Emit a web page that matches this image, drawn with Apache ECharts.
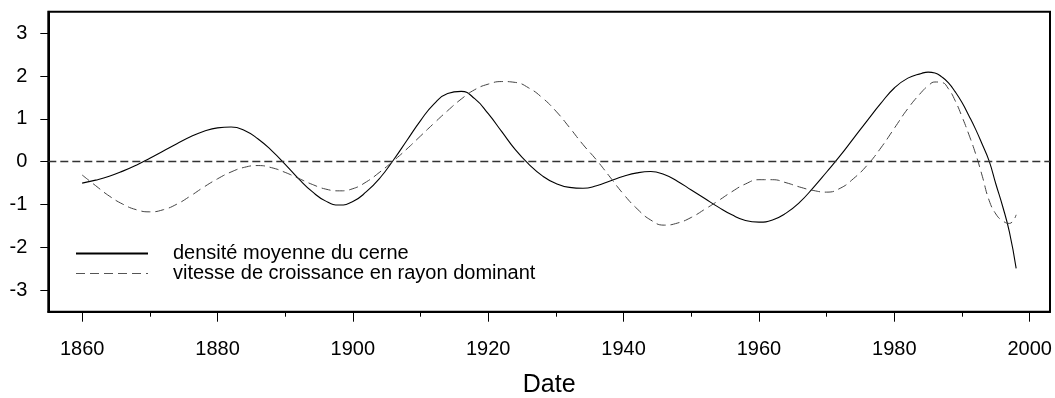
<!DOCTYPE html>
<html>
<head>
<meta charset="utf-8">
<script src="https://cdn.jsdelivr.net/npm/echarts@6/dist/echarts.min.js"></script>
<style>
  html, body { margin: 0; padding: 0; background: #fff; }
  #chart { width: 1055px; height: 398px; }
</style>
</head>
<body>
<div id="chart"></div>
<script>
// Years of the smoothed series (every 2 years, then yearly for the last span)
const years = [
  1860, 1862, 1864, 1866, 1868, 1870, 1872, 1874, 1876, 1878,
  1880, 1882, 1884, 1886, 1888, 1890, 1892, 1894, 1896, 1898,
  1900, 1902, 1904, 1906, 1908, 1910, 1912, 1914, 1916, 1918,
  1920, 1922, 1924, 1926, 1928, 1930, 1932, 1934, 1936, 1938,
  1940, 1942, 1944, 1946, 1948, 1950, 1952, 1954, 1956, 1958,
  1960, 1962, 1964, 1966, 1968, 1970, 1972, 1974, 1976, 1978,
  1980, 1982, 1984, 1985, 1986, 1987, 1988, 1989, 1990, 1991,
  1992, 1993, 1994, 1995, 1996, 1997, 1998
];

// Standardised mean ring density
const density = [
  -0.50, -0.43, -0.34, -0.22, -0.08, 0.08, 0.25, 0.42, 0.58, 0.71,
  0.79, 0.81, 0.73, 0.53, 0.26, -0.06, -0.40, -0.70, -0.92, -1.01,
  -0.93, -0.70, -0.38, 0.04, 0.50, 0.96, 1.35, 1.59, 1.64, 1.47,
  1.12, 0.70, 0.28, -0.06, -0.33, -0.51, -0.60, -0.62, -0.56, -0.45,
  -0.34, -0.26, -0.23, -0.30, -0.46, -0.66, -0.86, -1.06, -1.24, -1.37,
  -1.41, -1.36, -1.20, -0.95, -0.61, -0.24, 0.14, 0.55, 0.96, 1.36,
  1.72, 1.95, 2.06, 2.09, 2.07, 1.98, 1.84, 1.63, 1.38, 1.08,
  0.76, 0.40, 0.02, -0.52, -1.04, -1.64, -2.49
];

// Standardised radial growth rate of dominant trees
const growth = [
  -0.31, -0.56, -0.80, -0.99, -1.12, -1.17, -1.12, -0.99, -0.80, -0.59,
  -0.40, -0.24, -0.13, -0.09, -0.14, -0.25, -0.39, -0.53, -0.64, -0.68,
  -0.63, -0.47, -0.24, 0.02, 0.30, 0.60, 0.90, 1.19, 1.46, 1.68,
  1.81, 1.87, 1.85, 1.72, 1.49, 1.18, 0.80, 0.40, 0.04, -0.36,
  -0.76, -1.10, -1.36, -1.48, -1.43, -1.30, -1.11, -0.91, -0.70, -0.52,
  -0.42, -0.42, -0.49, -0.59, -0.67, -0.71, -0.62, -0.39, -0.08, 0.32,
  0.78, 1.24, 1.62, 1.77, 1.86, 1.85, 1.70, 1.42, 1.05, 0.64,
  0.19, -0.34, -0.90, -1.22, -1.38, -1.44, -1.24
];

const seriesNames = ['densité moyenne du cerne', 'vitesse de croissance en rayon dominant'];
const xTickLabels = [1860, 1880, 1900, 1920, 1940, 1960, 1980, 2000];
const xMinorTicks = [1870, 1890, 1910, 1930, 1950, 1970, 1990];
const yTickLabels = [-3, -2, -1, 0, 1, 2, 3];
const axisTitle = 'Date';

const FONT = "'Liberation Sans', Arial, sans-serif";

const pairs = vals => years.map((y, i) => [y, vals[i]]);

const chart = echarts.init(document.getElementById('chart'), null, { renderer: 'canvas' });

chart.setOption({
  animation: false,
  backgroundColor: '#fff',
  grid: {
    left: 48.3, top: 11.7, right: 5, bottom: 86.3,
    outerBoundsMode: 'none',
    containLabel: false,
    show: true, borderColor: '#000', borderWidth: 2, backgroundColor: 'transparent'
  },
  legend: {
    orient: 'vertical',
    left: 75, top: 243.5,
    padding: 0,
    itemGap: 0,
    itemWidth: 72,
    itemHeight: 19,
    textStyle: { fontFamily: FONT, fontSize: 20, lineHeight: 19, color: '#000', padding: [0, 0, 0, 20] },
    data: [
      {
        name: seriesNames[0],
        itemStyle: { opacity: 0, borderWidth: 0 },
        lineStyle: { width: 2, color: '#000', type: 'solid' }
      },
      {
        name: seriesNames[1],
        itemStyle: { opacity: 0, borderWidth: 0 },
        lineStyle: { width: 1, color: '#555', type: [9, 5] }
      }
    ]
  },
  xAxis: [
    {
      type: 'value', min: 1855, max: 2003, position: 'bottom',
      name: axisTitle, nameLocation: 'middle', nameGap: 61,
      nameTextStyle: { fontFamily: FONT, fontSize: 25, color: '#000' },
      axisLine: { show: true, onZero: false, lineStyle: { color: '#000', width: 2 } },
      axisTick: { show: true, customValues: xTickLabels, length: 10, lineStyle: { color: '#000', width: 1 } },
      axisLabel: {
        customValues: xTickLabels, margin: 28,
        fontFamily: FONT, fontSize: 20, color: '#000',
        formatter: v => String(v)
      },
      splitLine: { show: false }
    },
    {
      type: 'value', min: 1855, max: 2003, position: 'bottom',
      axisLine: { show: false, onZero: false },
      axisTick: { show: true, customValues: xMinorTicks, length: 5, lineStyle: { color: '#000', width: 1 } },
      axisLabel: { show: false },
      splitLine: { show: false }
    }
  ],
  yAxis: {
    type: 'value', min: -3.5, max: 3.5,
    axisLine: { show: true, onZero: false, lineStyle: { color: '#000', width: 2 } },
    axisTick: { show: true, customValues: yTickLabels, length: 8, lineStyle: { color: '#000', width: 1 } },
    axisLabel: { customValues: yTickLabels, margin: 21, fontFamily: FONT, fontSize: 20, color: '#000' },
    splitLine: { show: false }
  },
  series: [
    {
      name: seriesNames[0],
      type: 'line',
      data: pairs(density),
      smooth: 0.5,
      symbol: 'none',
      lineStyle: { color: '#000', width: 1.1 },
      itemStyle: { color: '#000' },
      markLine: {
        silent: true,
        symbol: 'none',
        label: { show: false },
        lineStyle: { color: '#333', width: 1.3, type: [8, 4] },
        data: [{ yAxis: 0 }]
      }
    },
    {
      name: seriesNames[1],
      type: 'line',
      data: pairs(growth),
      smooth: 0.5,
      symbol: 'none',
      lineStyle: { color: '#444', width: 1, type: [9, 5] },
      itemStyle: { color: '#444' }
    }
  ]
});
</script>
</body>
</html>
